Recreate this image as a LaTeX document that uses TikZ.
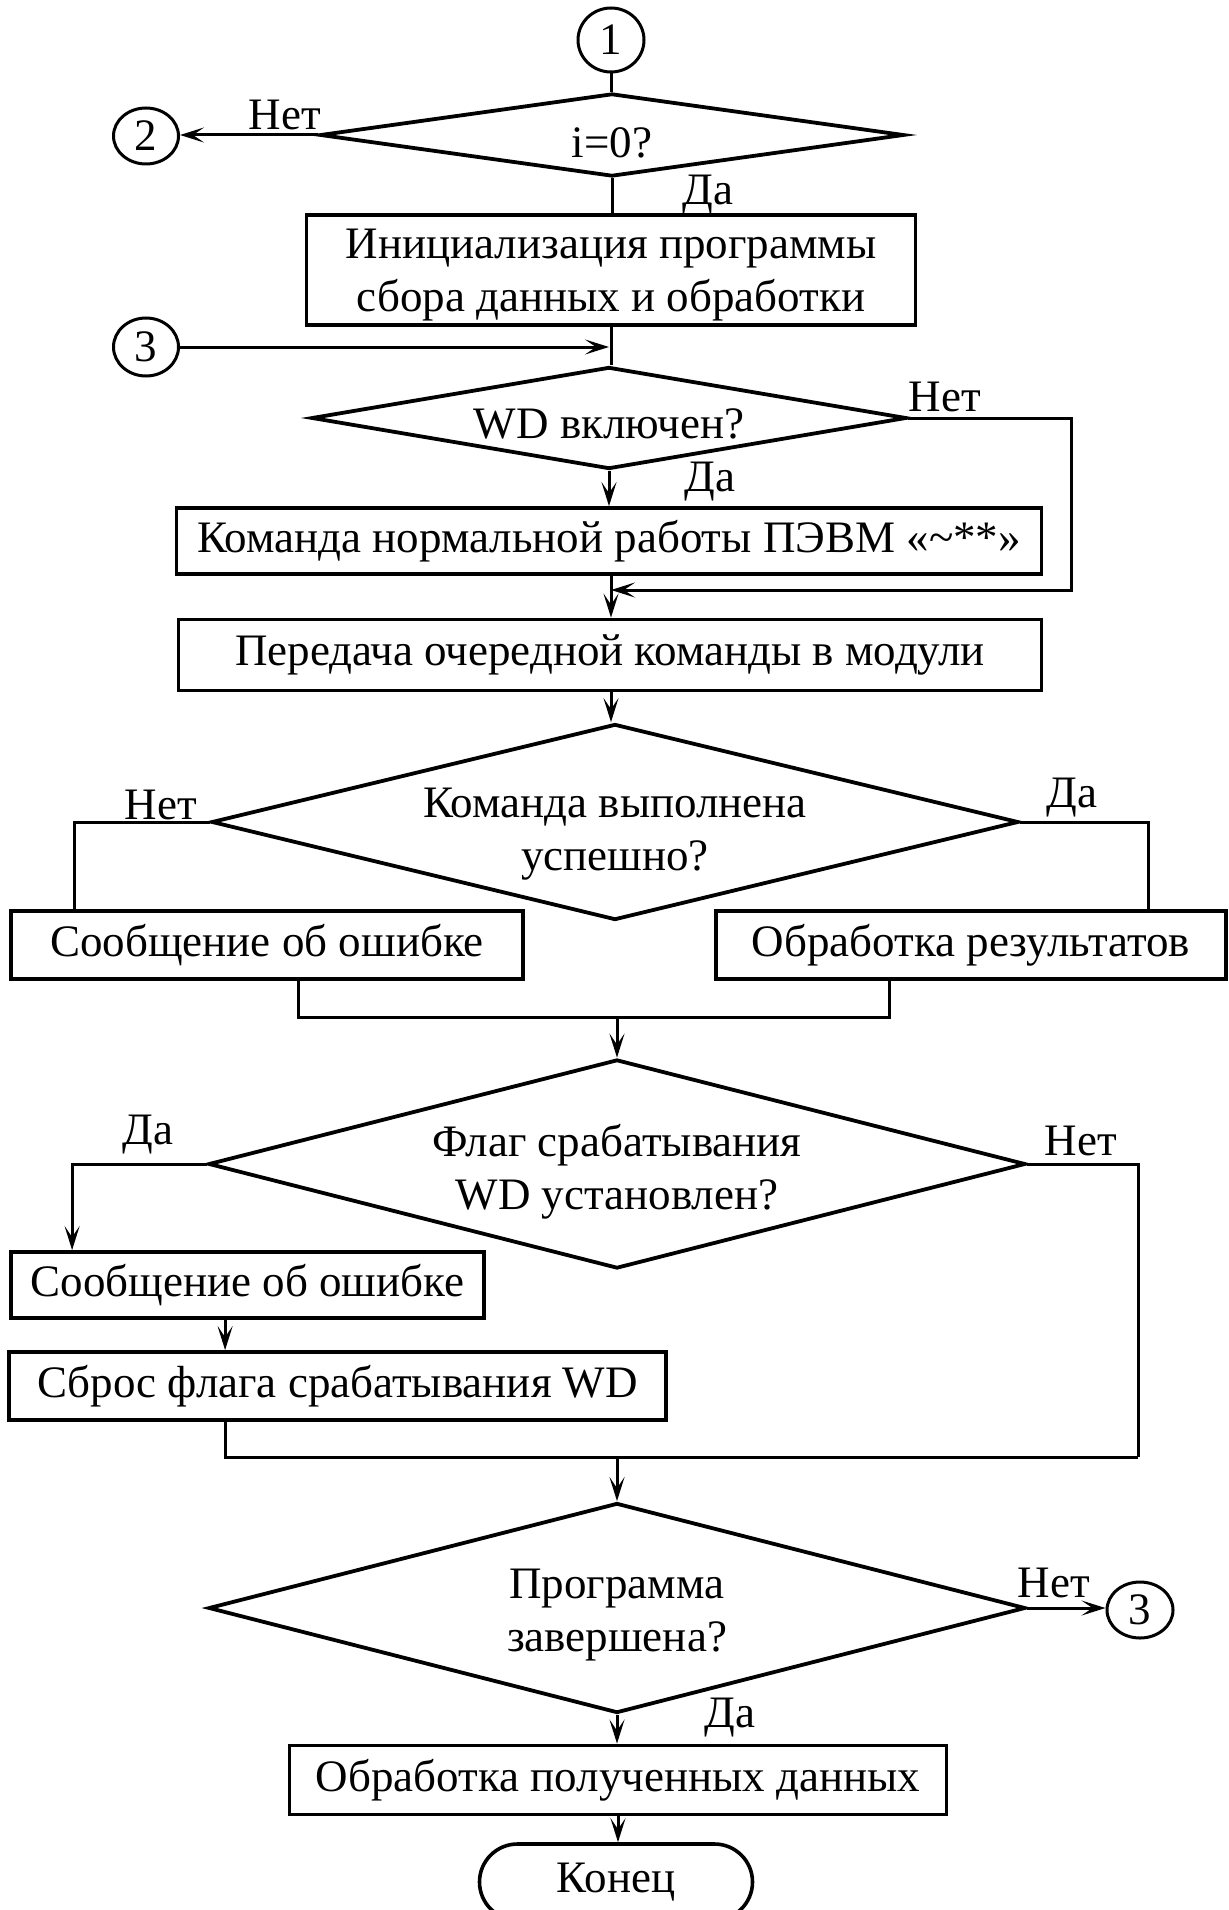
\documentclass[tikz,border=0pt]{standalone}
\usepackage{fontspec}
\setmainfont{Liberation Serif}
\usetikzlibrary{shapes.geometric,arrows.meta}

% invisible strut that lowers the text block inside a box
\newcommand\lowerby[1]{\rule{0pt}{#1}}
% text of a decision: lowered by #1, taking no room, so the rhombus
% keeps exactly its minimum width and height
\newcommand\dtext[2]{\raisebox{#1}[0pt][0pt]{\begin{tabular}{@{}c@{}}#2\end{tabular}}}

\begin{document}
\begin{tikzpicture}[
  x=0.5pt, y=-0.5pt,
  font=\fontsize{22.5pt}{26.5pt}\selectfont,
  box/.style={draw, rectangle, line width=1.9pt, inner sep=0pt, align=center},
  dec/.style={draw, diamond, aspect=10, line width=1.9pt, inner sep=0pt},
  conn/.style={draw, ellipse, line width=1.5pt, inner sep=0pt},
  term/.style={draw, rectangle, rounded corners=19pt, line width=1.8pt, inner sep=0pt},
  lbl/.style={inner sep=0pt},
  flow/.style={line width=1.5pt},
  arr/.style={flow, -{Stealth[length=12pt, width=7.5pt, inset=5.5pt]}}
]
\useasboundingbox (0,0) rectangle (1229,1910);
\clip (0,0) rectangle (1229,1910);

% ---- upper part: start, check of i, initialisation, WD switch ----
\node[conn, minimum width=33pt, minimum height=32pt] (c1) at (611,40) {1};
\node[dec, minimum width=292pt, minimum height=41.5pt] (d1) at (612,135)
  {\dtext{-11pt}{i=0?}};
\node[conn, minimum width=32.5pt, minimum height=28pt] (c2) at (146,136) {2};
\node[lbl] (n1) at (285,115) {Нет};
\node[lbl] (y1) at (708,195) {Да};

\node[box, minimum width=304.5pt, minimum height=55pt] (b1) at (611,270)
  {\lowerby{20pt}Инициализация программы\\сбора данных и обработки};

\node[conn, minimum width=32.5pt, minimum height=29pt] (c3a) at (146,347) {3};

\node[dec, minimum width=297.5pt, minimum height=51pt] (d2) at (609,418)
  {\dtext{-10pt}{WD включен?}};
\node[lbl] (n2) at (945,397) {Нет};
\node[lbl] (y2) at (710,482) {Да};

\node[box, minimum width=432.5pt, minimum height=33pt] (b2) at (609,541)
  {Команда нормальной работы ПЭВМ «\textasciitilde**»};
\node[box, minimum width=431.5pt, minimum height=35.5pt] (b3) at (610,655)
  {Передача очередной команды в модули};
\coordinate (j1) at (611,590);

% ---- command result ----
\node[dec, minimum width=403.5pt, minimum height=98pt] (d3) at (615,822)
  {\dtext{-11pt}{Команда выполнена\\успешно?}};
\node[lbl] (n3) at (161,805) {Нет};
\node[lbl] (y3) at (1072,798) {Да};

\node[box, minimum width=256pt, minimum height=34pt] (b4) at (267,945)
  {Сообщение об ошибке};
\node[box, minimum width=255pt, minimum height=34pt] (b5) at (971,945)
  {Обработка результатов};
\coordinate (j2) at (617,1017);

% ---- WD flag ----
\node[dec, minimum width=408.5pt, minimum height=104.5pt] (d4) at (617,1164)
  {\dtext{-9.5pt}{Флаг срабатывания\\WD установлен?}};
\node[lbl] (y4) at (148,1135) {Да};
\node[lbl] (n4) at (1081,1141) {Нет};

\node[box, minimum width=236.5pt, minimum height=33pt] (b6) at (247.5,1285)
  {Сообщение об ошибке};
\node[box, minimum width=328.5pt, minimum height=34pt] (b7) at (337.5,1386)
  {Сброс флага срабатывания WD};
\coordinate (j3) at (617,1457);
\coordinate (r4) at (1138,1457);

% ---- end of program ----
\node[dec, minimum width=408.5pt, minimum height=105pt] (d5) at (617,1608)
  {\dtext{-8.3pt}{Программа\\завершена?}};
\node[lbl] (n5) at (1054,1583) {Нет};
\node[lbl] (y5) at (730,1718) {Да};
\node[conn, minimum width=33pt, minimum height=28pt] (c3b) at (1140,1610) {3};

\node[box, minimum width=328.5pt, minimum height=34.5pt] (b8) at (618,1780)
  {Обработка полученных данных};
\node[term, minimum width=136.5pt, minimum height=38pt] (t) at (616,1882) {Конец};

% ---- connectors ----
\draw[flow] (c1.south) -- (c1.south |- d1.north);
\draw[arr] (d1.west) -- (d1.west -| c2.east);
\draw[flow] (d1.south) -- (d1.south |- b1.north);
\draw[flow] (b1.south) -- (b1.south |- d2.north);
\draw[arr] (c3a.east) -- (c3a.east -| d2.north);
\draw[arr] (d2.south) -- (d2.south |- b2.north);
\draw[arr] (d2.east) -- ++(163,0) |- (j1);
\draw[arr] (j1 |- b2.south) -- (j1 |- b3.north);
\draw[arr] (j1 |- b3.south) -- (j1 |- d3.north);

\draw[flow] (d3.west) -| ([xshift=32.5pt]b4.north west);
\draw[flow] (d3.east) -| ([xshift=-39.5pt]b5.north east);
\draw[flow] ([xshift=144.5pt]b4.south west) |- (j2) -| ([xshift=87.5pt]b5.south west);
\draw[arr] (j2) -- (d4.north);

\draw[arr] (d4.west) -| ([xshift=31.5pt]b6.north west);
\draw[flow] (d4.east) -| (r4);
\draw[arr] ([xshift=108pt]b6.south west) -- ([xshift=108pt]b6.south west |- b7.north);
\draw[flow] ([xshift=109pt]b7.south west) |- (r4);
\draw[arr] (j3) -- (d5.north);

\draw[arr] (d5.east) -- (d5.east -| c3b.west);
\draw[arr] (d5.south) -- (d5.south |- b8.north);
\draw[arr] (b8.south) -- (b8.south |- t.north);
\end{tikzpicture}
\end{document}
